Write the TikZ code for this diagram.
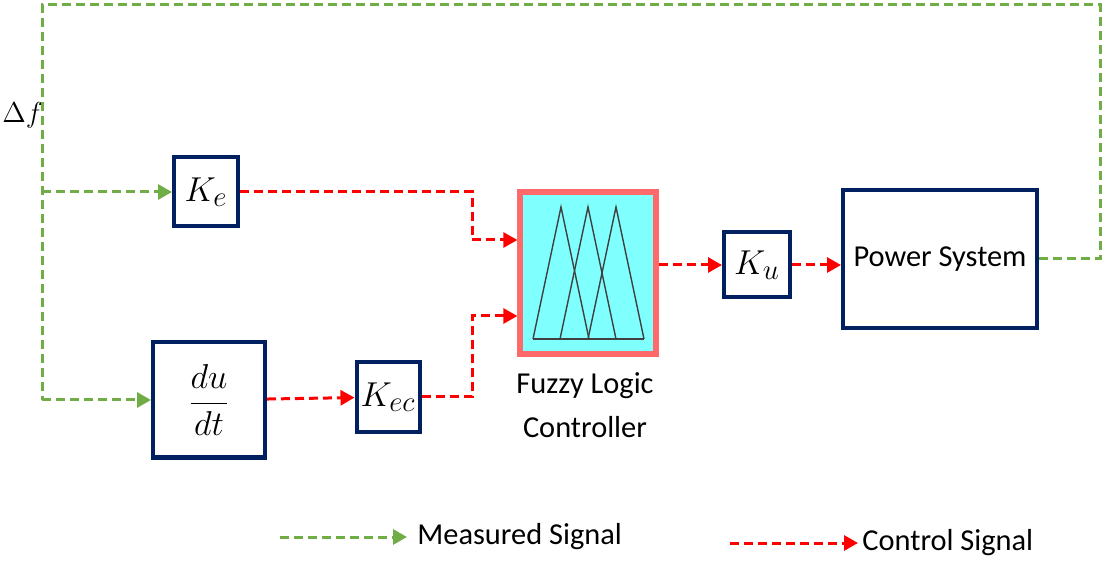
\documentclass[tikz,border=0pt]{standalone}
\usepackage{amsmath}
\usepackage{fontspec}
\setmainfont{Carlito}
\usepackage{tikz}
\usetikzlibrary{positioning,arrows.meta,calc}
\definecolor{navyblk}{RGB}{0,32,96}
\definecolor{measgreen}{RGB}{112,173,71}
\definecolor{ctrlred}{RGB}{255,0,0}
\definecolor{flcedge}{RGB}{255,105,105}
\definecolor{flcfill}{RGB}{128,255,255}
\tikzset{
  gblk/.style  ={draw=navyblk, line width=2pt, fill=white, inner sep=2pt,
                 font=\fontsize{19}{22}\selectfont},
  flcblk/.style={draw=flcedge, line width=2.6pt, fill=flcfill, inner sep=0pt,
                 minimum width=68pt, minimum height=81pt},
  lbl/.style   ={font=\fontsize{15.2}{22}\selectfont, align=center, inner sep=1pt},
  meas/.style  ={draw=measgreen, line width=1.5pt, dash pattern=on 4.5pt off 2.5pt},
  ctrl/.style  ={draw=ctrlred, line width=1.5pt, dash pattern=on 4.5pt off 2.5pt},
  tip/.style   ={-{Triangle[length=7pt,width=7.5pt]}},
  tri/.style   ={draw=black!75, line width=0.7pt},
}
\begin{document}
\begin{tikzpicture}[x=0.5pt,y=-0.5pt]
\useasboundingbox (0,0) rectangle (1104,561);

% blocks
\node[gblk,minimum width=32pt,minimum height=34.5pt] (ke) at (206,192) {$K_e$};
\node[gblk,minimum width=56pt,minimum height=57.5pt,font=\fontsize{17}{20}\selectfont] (dudt) at (209,400) {$\dfrac{du}{dt}$};
\node[gblk,minimum width=31.5pt,minimum height=35pt] (kec) at (388,397) {$K_{ec}$};
\node[flcblk] (flc) at (588,273) {};
\node[gblk,minimum width=33pt,minimum height=32.5pt] (ku) at (757,265) {$K_u$};
\node[gblk,minimum width=97pt,minimum height=69pt,lbl,inner sep=0pt] (ps) at (940,259) {Power System};

\node[lbl] (flclbl) at (585,405) {Fuzzy Logic\\Controller};
\node[font=\fontsize{15}{18}\selectfont,anchor=west,inner sep=0pt] (df) at (2,115) {$\Delta f$};

% membership functions
\foreach \p in {561,588,616}
  \draw[tri] (\p-28,339) -- (\p,207) -- (\p+28,339);
\draw[tri] (533,339) -- (644,339);

% helper points
\coordinate (fbr) at (1100,5);
\coordinate (fbl) at (42,5);
\coordinate (mix) at (472,0);
\coordinate (in1) at ($(flc.west)+(0,-33)$);
\coordinate (in2) at ($(flc.west)+(0,43)$);

% measured signal
\draw[meas] (ps.east) -| (fbr) -- (fbl) -- (fbl |- dudt);
\draw[meas,tip] (fbl |- ke) -- (ke);
\draw[meas,tip] (fbl |- dudt) -- (dudt);

% control signal
\draw[ctrl,tip] (ke) -- (ke -| mix) -- (mix |- in1) -- (in1);
\draw[ctrl,tip] (dudt) -- (kec);
\draw[ctrl,tip] (kec) -- (kec -| mix) -- (mix |- in2) -- (in2);
\draw[ctrl,tip] (flc.east |- ku) -- (ku);
\draw[ctrl,tip] (ku) -- (ps.west |- ku);

% legend
\node[lbl,anchor=west] (lmeas) at (415,537) {Measured Signal};
\node[lbl,anchor=west] (lctrl) at (860,543) {Control Signal};
\coordinate (lm0) at (280,537);
\coordinate (lc0) at (730,543);
\draw[meas,tip] (lm0) -- ([xshift=-4pt]lmeas.west);
\draw[ctrl,tip] (lc0) -- ([xshift=-1pt]lctrl.west);
\end{tikzpicture}
\end{document}
